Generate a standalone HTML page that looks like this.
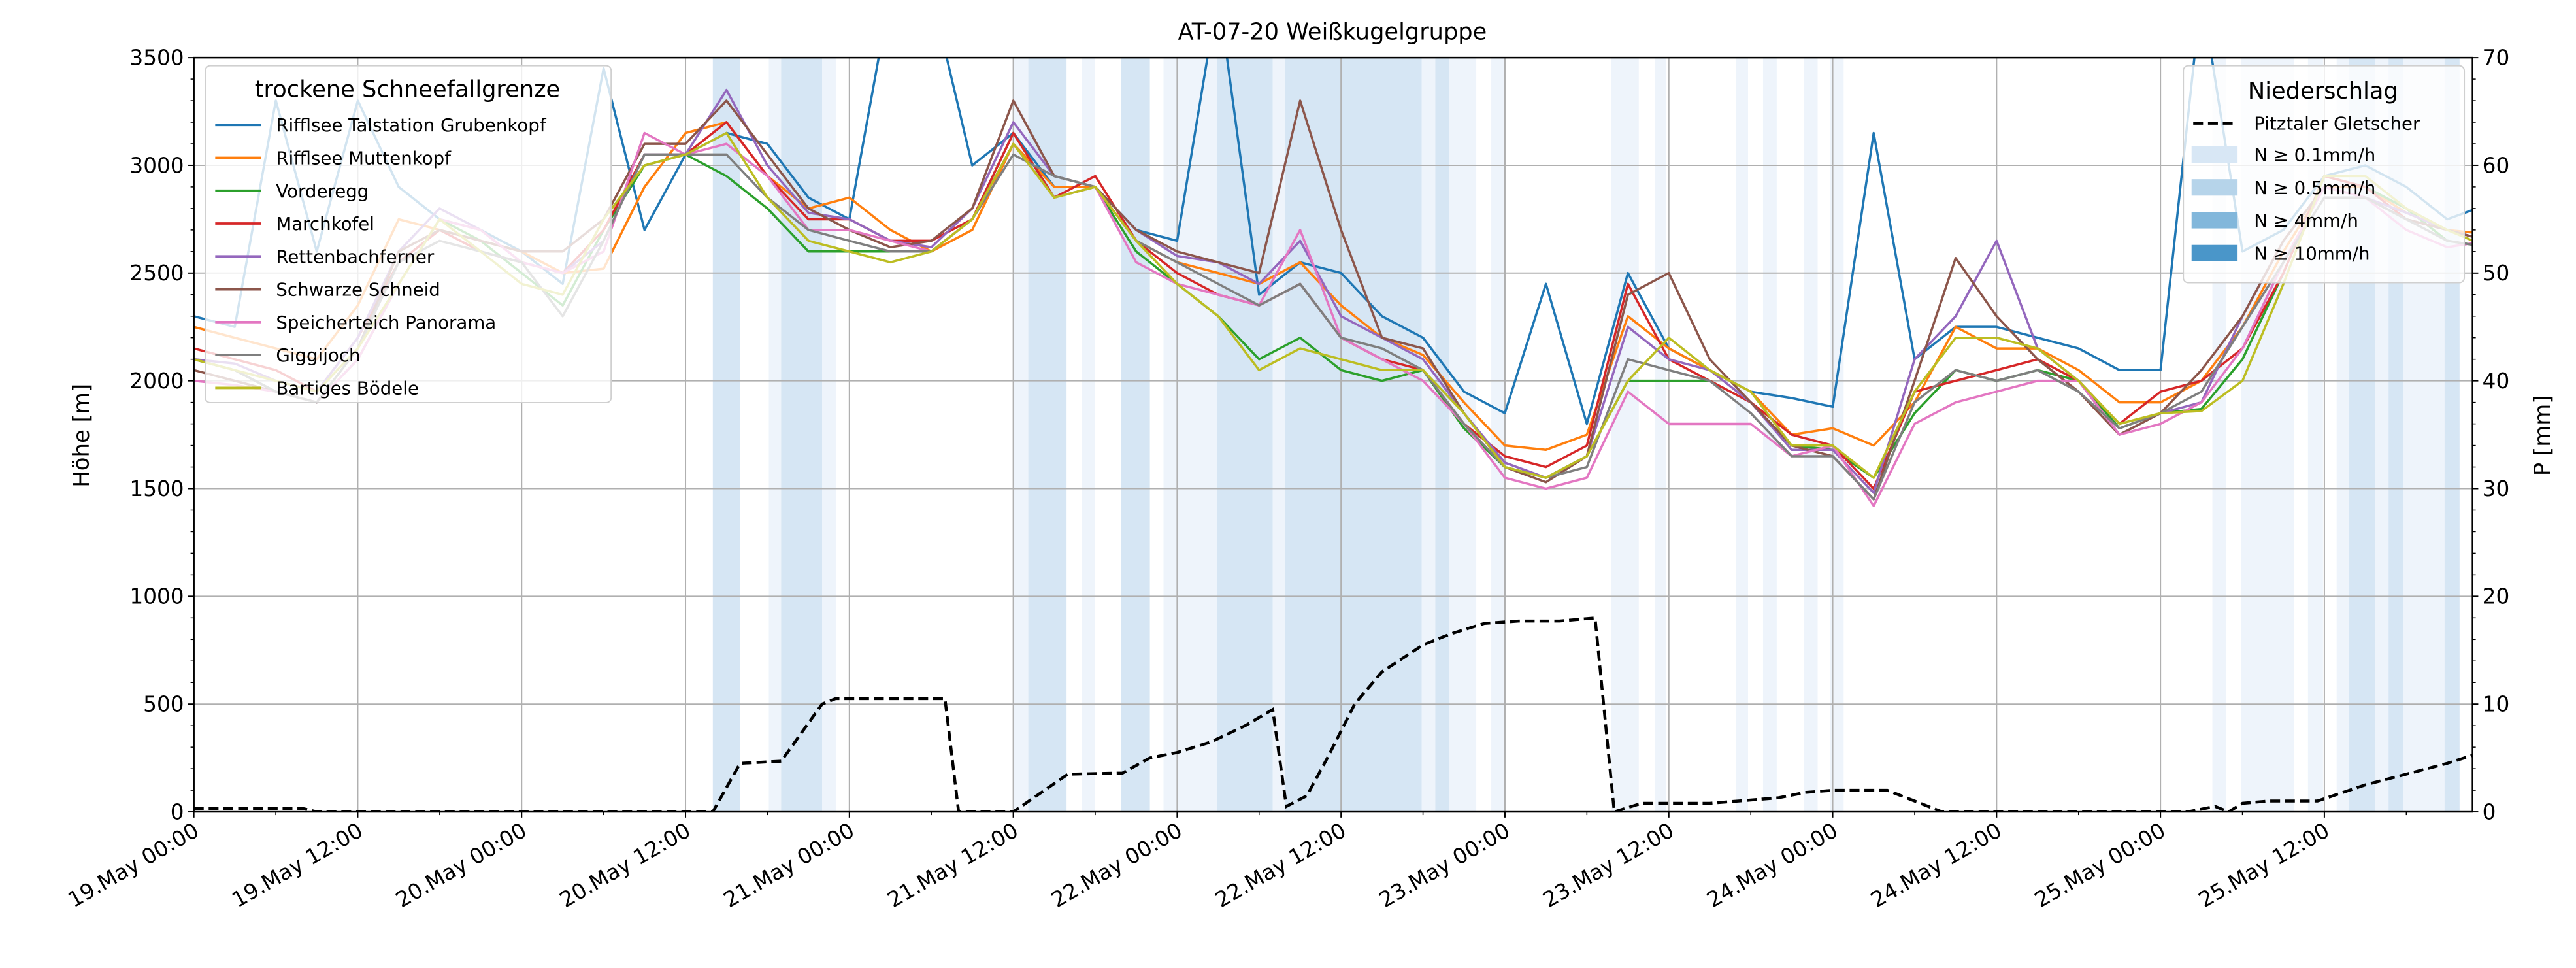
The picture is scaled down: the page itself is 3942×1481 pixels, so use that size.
<!DOCTYPE html>
<html><head><meta charset="utf-8"><style>
html,body{margin:0;padding:0;background:#fff}
svg{display:block}
text{font-family:"DejaVu Sans","Liberation Sans",sans-serif;fill:#000}
</style></head><body>
<svg id="chart" width="3942" height="1481" viewBox="0 0 1568 589" xmlns="http://www.w3.org/2000/svg">
<defs><clipPath id="clip"><rect x="118" y="35" width="1387" height="459"/></clipPath></defs>
<rect x="0" y="0" width="1568" height="589" fill="#fff"/>
<g id="bands" clip-path="url(#clip)"></g>
<g id="grid"></g>
<g id="series" clip-path="url(#clip)"></g>
<g id="axes"></g>
<text x="811" y="24" font-size="14" text-anchor="middle">AT-07-20 Weißkugelgruppe</text>
<text x="0" y="0" font-size="13.5" text-anchor="middle" transform="translate(54,265) rotate(-90)">Höhe [m]</text>
<text x="0" y="0" font-size="13.5" text-anchor="middle" transform="translate(1552,265) rotate(-90)">P [mm]</text>
<g id="legend-left"></g>
<g id="legend-right"></g>
</svg>
<script>
const hours = [0,3,6,9,12,15,18,21,24,27,30,33,36,39,42,45,48,51,54,57,60,63,66,69,72,75,78,81,84,87,90,93,96,99,102,105,108,111,114,117,120,123,126,129,132,135,138,141,144,147,150,153,156,159,162,165,168];
const seriesNames = ["Rifflsee Talstation Grubenkopf","Rifflsee Muttenkopf","Vorderegg","Marchkofel","Rettenbachferner","Schwarze Schneid","Speicherteich Panorama","Giggijoch","Bartiges Bödele"];
const seriesColors = ["#1f77b4","#ff7f0e","#2ca02c","#d62728","#9467bd","#8c564b","#e377c2","#7f7f7f","#bcbd22"];
const sBlue = [2300,2250,3300,2600,3300,2900,2750,2700,2600,2450,3450,2700,3050,3150,3100,2850,2750,3800,3800,3000,3150,2900,2900,2700,2650,3800,2400,2550,2500,2300,2200,1950,1850,2450,1800,2500,2150,2050,1950,1920,1880,3150,2100,2250,2250,2200,2150,2050,2050,3800,2600,2700,2950,3000,2900,2750,2820];
const sOrange = [2250,2200,2150,2100,2350,2750,2700,2650,2600,2500,2520,2900,3150,3200,2950,2800,2850,2700,2600,2700,3100,2900,2900,2650,2550,2500,2450,2550,2350,2200,2120,1900,1700,1680,1750,2300,2150,2050,1950,1750,1780,1700,1900,2250,2150,2150,2050,1900,1900,2000,2250,2600,2900,2900,2780,2700,2680];
const sGreen = [2100,2050,1950,1900,2100,2450,2750,2650,2500,2350,2700,3000,3050,2950,2800,2600,2600,2600,2600,2750,3150,2850,2900,2600,2450,2300,2100,2200,2050,2000,2050,1780,1600,1550,1650,2000,2000,2000,1900,1700,1680,1550,1850,2050,2000,2050,2000,1780,1850,1870,2100,2500,2950,2900,2800,2650,2620];
const sRed = [2150,2100,2050,1950,2200,2550,2700,2600,2550,2500,2700,3050,3050,3200,2950,2750,2750,2650,2650,2750,3150,2850,2950,2650,2500,2400,2350,2450,2200,2100,2050,1800,1650,1600,1700,2450,2100,2000,1900,1750,1700,1500,1950,2000,2050,2100,2000,1800,1950,2000,2150,2500,2950,2900,2750,2700,2650];
const sPurple = [2100,2080,2000,1950,2200,2600,2800,2700,2550,2500,2650,3050,3050,3350,3000,2780,2750,2650,2620,2800,3200,2950,2900,2700,2580,2550,2450,2650,2300,2200,2100,1850,1620,1550,1650,2250,2100,2050,1900,1680,1680,1480,2100,2300,2650,2150,2000,1750,1850,1900,2300,2650,2900,2850,2780,2700,2650];
const sBrown = [2050,2000,1950,1900,2150,2600,2700,2650,2600,2600,2750,3100,3100,3300,3050,2800,2700,2620,2650,2800,3300,2950,2900,2700,2600,2550,2500,3300,2700,2200,2150,1850,1600,1530,1650,2400,2500,2100,1900,1700,1650,1450,2000,2570,2300,2100,1950,1750,1850,2050,2300,2650,2900,2850,2750,2700,2650];
const sPink = [2000,1980,1950,1900,2100,2450,2750,2700,2550,2500,2600,3150,3050,3100,2950,2700,2700,2650,2600,2750,3100,2850,2900,2550,2450,2400,2350,2700,2200,2100,2000,1800,1550,1500,1550,1950,1800,1800,1800,1650,1700,1420,1800,1900,1950,2000,2000,1750,1800,1900,2150,2550,2900,2850,2700,2620,2650];
const sGray = [2100,2050,1950,1900,2150,2550,2650,2600,2550,2300,2650,3050,3050,3050,2850,2700,2650,2600,2600,2750,3050,2950,2900,2650,2550,2450,2350,2450,2200,2150,2050,1800,1600,1550,1600,2100,2050,2000,1850,1650,1650,1450,1900,2050,2000,2050,1950,1780,1850,1950,2250,2550,2850,2850,2750,2650,2620];
const sOlive = [2100,2050,2000,1950,2150,2450,2750,2600,2450,2400,2750,3000,3050,3150,2850,2650,2600,2550,2600,2750,3100,2850,2900,2650,2450,2300,2050,2150,2100,2050,2050,1850,1600,1550,1650,2000,2200,2050,1950,1700,1700,1550,1950,2200,2200,2150,2000,1800,1850,1860,2000,2450,2950,2950,2800,2700,2620];
const precipHours = [0,8,9,38,40,43,46,47,55,56,60,64,68,70,72,74.5,77,79,80,81.5,83,85,87,90,92,94.5,97,100,102.6,104,106,111,116,118,120,124,128,146,148,149,150,152,155.5,159,162,165,167];
const precipValues = [0.3,0.3,0,0,4.5,4.7,10,10.5,10.5,0,0,3.5,3.6,5,5.5,6.5,8,9.5,0.5,1.5,5,10,13,15.5,16.5,17.5,17.7,17.7,18,0,0.8,0.8,1.3,1.8,2,2,0,0,0.5,0,0.8,1,1,2.5,3.5,4.5,5.3];
const bandStart = [38,42.1,43,46,60,61.1,65,67.9,71,72,74.9,79,79.9,89.9,90.9,91.9,95,103.8,107,112.9,114.9,117.9,119.8,147.8,149.9,154.8,156.9,157.8,159.7,160.7,161.8,164.8];
const bandEnd = [40,43,46,47,61.1,63.9,66,70,72,74.9,79,79.9,89.9,90.9,91.9,93.9,95.9,105.8,107.8,113.8,115.9,118.9,120.8,148.8,153.8,155.9,157.8,159.7,160.7,161.8,164.8,165.9];
const bandLevel = [2,1,2,1,1,2,1,2,1,1,2,1,2,1,2,1,1,1,1,1,1,1,1,1,1,1,1,2,1,2,1,2];
const xTickLabels = ["19.May 00:00","19.May 12:00","20.May 00:00","20.May 12:00","21.May 00:00","21.May 12:00","22.May 00:00","22.May 12:00","23.May 00:00","23.May 12:00","24.May 00:00","24.May 12:00","25.May 00:00","25.May 12:00"];
const yTicks = [0,500,1000,1500,2000,2500,3000,3500];
const y2Ticks = [0,10,20,30,40,50,60,70];

const NS="http://www.w3.org/2000/svg";
const X0=118,X1=1505,Y0=494,Y1=35;
const xs = h => X0 + h*8.313;
const ys = v => Y0 - v*(Y0-Y1)/3500;
const y2s = v => Y0 - v*(Y0-Y1)/70;
function mk(tag, parent, attrs){const e=document.createElementNS(NS,tag);for(const k in attrs)e.setAttribute(k,attrs[k]);parent.appendChild(e);return e;}
const gB=document.getElementById('bands'),gG=document.getElementById('grid'),gS=document.getElementById('series'),gA=document.getElementById('axes');
const bandColors=["","#eef4fb","#d6e6f4"];
for(let i=0;i<bandStart.length;i++){
  const r=mk('rect',gB,{x:xs(bandStart[i]),y:Y1,width:xs(bandEnd[i])-xs(bandStart[i]),height:Y0-Y1,fill:bandColors[bandLevel[i]]});
  
  
}
for(let i=0;i<xTickLabels.length;i++){
  const x=xs(i*12);
  const l=mk('line',gG,{x1:x,x2:x,y1:Y1,y2:Y0,stroke:'#b0b0b0','stroke-width':0.8});
  
  
  mk('line',gA,{x1:x,x2:x,y1:Y0,y2:Y0+3.5,stroke:'#000','stroke-width':0.8});
  const t=mk('text',gA,{x:0,y:0,'font-size':13,'text-anchor':'end',transform:`translate(${x+4},${Y0+14}) rotate(-30)`});
  t.textContent=xTickLabels[i];
  
  
}
for(let h=6;h<167;h+=12){const x=xs(h);mk('line',gA,{x1:x,x2:x,y1:Y0,y2:Y0+2,stroke:'#000','stroke-width':0.6});}
yTicks.forEach(v=>{
  const y=ys(v);
  const l=mk('line',gG,{x1:X0,x2:X1,y1:y,y2:y,stroke:'#b0b0b0','stroke-width':0.8});
  
  
  mk('line',gA,{x1:X0-3.5,x2:X0,y1:y,y2:y,stroke:'#000','stroke-width':0.8});
  const t=mk('text',gA,{x:X0-6,y:y+4.5,'font-size':13,'text-anchor':'end'});
  t.textContent=v;
  
  
});
for(let v=100;v<3500;v+=100){if(v%500){const y=ys(v);mk('line',gA,{x1:X0-2,x2:X0,y1:y,y2:y,stroke:'#000','stroke-width':0.6});}}
y2Ticks.forEach(v=>{
  const y=y2s(v);
  mk('line',gA,{x1:X1,x2:X1+3.5,y1:y,y2:y,stroke:'#000','stroke-width':0.8});
  const t=mk('text',gA,{x:X1+6,y:y+4.5,'font-size':13});
  t.textContent=v;
  
  
});
for(let v=2;v<70;v+=2){if(v%10){const y=y2s(v);mk('line',gA,{x1:X1,x2:X1+2,y1:y,y2:y,stroke:'#000','stroke-width':0.6});}}
mk('rect',gA,{x:X0,y:Y1,width:X1-X0,height:Y0-Y1,fill:'none',stroke:'#000','stroke-width':1});

const allSeries=[sBlue,sOrange,sGreen,sRed,sPurple,sBrown,sPink,sGray,sOlive];
allSeries.forEach((arr,si)=>{
  const d=arr.map((v,i)=>(i?'L':'M')+xs(hours[i]).toFixed(1)+','+ys(v).toFixed(1)).join('');
  const p=mk('path',gS,{d:d,fill:'none',stroke:seriesColors[si],'stroke-width':1.4,'stroke-linejoin':'round'});
  
  
});
{
  const d=precipValues.map((v,i)=>(i?'L':'M')+xs(precipHours[i]).toFixed(1)+','+y2s(v).toFixed(1)).join('');
  const p=mk('path',gS,{d:d,fill:'none',stroke:'#000','stroke-width':1.8,'stroke-dasharray':'6,3'});
  
  
}
// left legend
const L=document.getElementById('legend-left');
mk('rect',L,{x:125,y:40,width:247,height:205,rx:3,fill:'#fff','fill-opacity':0.8,stroke:'#d0d0d0','stroke-width':0.8});
{const t=mk('text',L,{x:248,y:59,'font-size':14,'text-anchor':'middle'});t.textContent='trockene Schneefallgrenze';}
seriesNames.forEach((n,i)=>{
  const y=76+i*20;
  mk('line',L,{x1:131,x2:159,y1:y,y2:y,stroke:seriesColors[i],'stroke-width':1.5});
  const t=mk('text',L,{x:168,y:y+4,'font-size':11});
  t.textContent=n;
  
  
});
// right legend
const R=document.getElementById('legend-right');
mk('rect',R,{x:1329,y:40,width:171,height:132,rx:3,fill:'#fff','fill-opacity':0.8,stroke:'#d0d0d0','stroke-width':0.8});
{const t=mk('text',R,{x:1414,y:60,'font-size':14,'text-anchor':'middle'});t.textContent='Niederschlag';}
mk('line',R,{x1:1335,x2:1362,y1:75,y2:75,stroke:'#000','stroke-width':1.8,'stroke-dasharray':'6,3'});
{const t=mk('text',R,{x:1372,y:79,'font-size':11});t.textContent='Pitztaler Gletscher';}
const swC=['#d8e7f5','#b6d4ea','#82b7db','#4a96c9'],swL=['N ≥ 0.1mm/h','N ≥ 0.5mm/h','N ≥ 4mm/h','N ≥ 10mm/h'];
swC.forEach((c,i)=>{
  const y=94+i*20;
  mk('rect',R,{x:1334,y:y-5,width:28,height:10,fill:c});
  const t=mk('text',R,{x:1372,y:y+4,'font-size':11});
  t.textContent=swL[i];
  
  
});
</script>
</body></html>
